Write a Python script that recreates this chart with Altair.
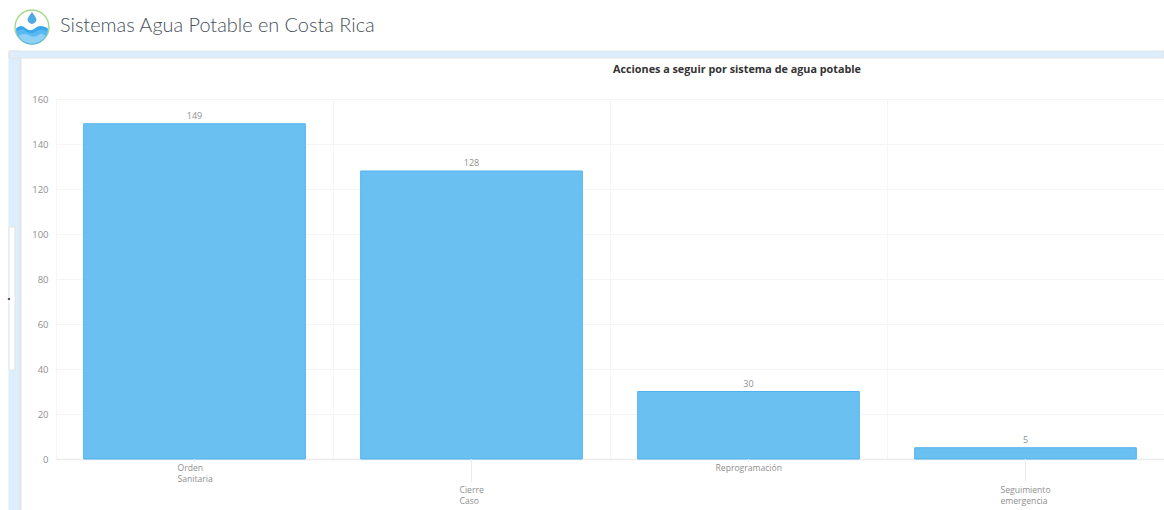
import altair as alt
import pandas as pd

# Values
categories = ["Orden|Sanitaria", "Cierre|Caso", "Reprogramación", "Seguimiento|emergencia"]
acciones = [149, 128, 30, 5]
y_ticks = [0, 20, 40, 60, 80, 100, 120, 140, 160]

# Text
page_title = "Sistemas Agua Potable en Costa Rica"
chart_title = "Acciones a seguir por sistema de agua potable"

# Colours
BAR_FILL = "#6bc0f2"
BAR_EDGE = "#4fb2ef"
GRID = "#f5f5f5"
AXIS_LINE = "#ebebeb"
TEXT_GREY = "#8f8f8f"
PANEL_BLUE = "#dcedfb"
PANEL_EDGE = "#e2e4e6"

# Plot area inside the page
PLOT_W, PLOT_H = 1108, 360
LEFT, TOP = 56, 99

df = pd.DataFrame({"accion": categories, "total": acciones})
one = alt.Data(values=[{"k": 1}])

# Bands fill the whole width so the vertical grid falls between the bars;
# the bars themselves take 80% of their band.
x = alt.X(
    "accion:N",
    sort=categories,
    title=None,
    scale=alt.Scale(paddingInner=0, paddingOuter=0),
    axis=alt.Axis(
        grid=True, gridColor=GRID, bandPosition=0, ticks=False, labels=False,
        domainColor=AXIS_LINE, domainWidth=1.5,
    ),
)
y = alt.Y(
    "total:Q",
    title=None,
    scale=alt.Scale(domain=[0, 160], nice=False),
    axis=alt.Axis(
        values=y_ticks, grid=True, gridColor=GRID, ticks=False, domain=False,
        labelColor=TEXT_GREY, labelFontSize=9.5, labelFont="Open Sans", labelPadding=8,
    ),
)


def px(left, right, top, bottom, color, stroke=None):
    """Page furniture given in page pixels."""
    mark = alt.Chart(one).mark_rect(color=color, stroke=stroke or color, strokeWidth=1)
    return mark.encode(
        x=alt.value(left - LEFT), x2=alt.value(right - LEFT),
        y=alt.value(top - TOP), y2=alt.value(bottom - TOP),
    )


def page_text(text, cx, cy, size, color, weight="normal", font="Lato", align="left"):
    return alt.Chart(one).mark_text(
        text=text, fontSize=size, color=color, fontWeight=weight, font=font,
        align=align, baseline="middle",
    ).encode(x=alt.value(cx - LEFT), y=alt.value(cy - TOP))


def logo_point(shape, size, **style):
    return alt.Chart(one).mark_point(shape=shape, size=size, opacity=1, **style).encode(
        x=alt.value(32 - LEFT), y=alt.value(27 - TOP)
    )


DROP = "M0,-1 C0.5,-0.3 0.72,0 0.72,0.25 A0.72,0.72 0 1 1 -0.72,0.25 C-0.72,0 -0.5,-0.3 0,-1 Z"
WATER = ("M-1,0.1 C-0.8,-0.12 -0.6,-0.12 -0.4,0.08 C-0.2,0.24 0,0.24 0.2,0.08 "
         "C0.4,-0.12 0.7,-0.12 1,0.1 A1,1 0 0 1 -1,0.1 Z")
WATER_MID = ("M-0.97,0.3 C-0.75,0.12 -0.55,0.12 -0.35,0.28 C-0.15,0.42 0.05,0.42 0.25,0.28 "
             "C0.45,0.12 0.75,0.14 0.97,0.3 A1,1 0 0 1 -0.97,0.3 Z")
WATER_LOW = ("M-0.85,0.56 C-0.6,0.4 -0.4,0.4 -0.2,0.52 C0,0.64 0.2,0.64 0.4,0.5 "
             "C0.55,0.4 0.72,0.42 0.85,0.56 A1,1 0 0 1 -0.85,0.56 Z")

furniture = [
    px(9, 20, 51, 510, PANEL_BLUE),
    px(9, 1164, 51, 58, PANEL_BLUE, PANEL_EDGE),
    px(20, 21, 58, 510, PANEL_EDGE),
    px(9, 15, 227, 370, "#ffffff", "#e4e4e4"),
    page_text("·", 9, 298, 12, "#444444", weight="bold", align="center"),
    logo_point("circle", 1150, filled=True, color="#ffffff"),
    logo_point("circle", 1150, filled=False, color="#a9d98f", strokeWidth=1.5),
    logo_point(WATER, 1020, filled=True, color="#38a7ee", strokeWidth=0),
    logo_point(WATER_MID, 1020, filled=True, color="#5ab8f2", strokeWidth=0),
    logo_point(WATER_LOW, 1020, filled=True, color="#8fd0f6", strokeWidth=0),
    alt.Chart(one).mark_point(shape=DROP, size=150, filled=True, opacity=1, color="#4fa9e4", strokeWidth=0)
    .encode(x=alt.value(32 - LEFT), y=alt.value(18 - TOP)),
    page_text(page_title, 60, 26, 19.9, "#46505a", weight=300, font="Lato"),
    page_text(chart_title, 737, 70, 10.8, "#333333", weight="bold", font="Open Sans", align="center"),
]

base = alt.Chart(df)
bars = base.mark_bar(
    color=BAR_FILL, stroke=BAR_EDGE, strokeWidth=1, width=alt.RelativeBandSize(band=0.8)
).encode(x=x, y=y)
values = base.mark_text(
    baseline="bottom", dy=-3, fontSize=9, color=TEXT_GREY, font="Open Sans"
).encode(x=alt.X("accion:N", sort=categories), y="total:Q", text="total:Q")

# Axis captions take turns on a near and a far row; each is a left-aligned block
# centred under its bar, and the far row hangs from a longer tick.
half_widths = {categories[0]: 17, categories[1]: 12, categories[2]: 33, categories[3]: 25}
captions = []
for i, name in enumerate(categories):
    far = i % 2 == 1
    row = alt.Chart(df[df["accion"] == name])
    captions.append(
        row.mark_rule(color=AXIS_LINE, strokeWidth=1).encode(
            x=alt.X("accion:N", sort=categories),
            y=alt.value(PLOT_H),
            y2=alt.value(PLOT_H + (23 if far else 3)),
        )
    )
    captions.append(
        row.mark_text(
            align="left", baseline="top", lineBreak="|", lineHeight=11,
            dx=-half_widths[name], fontSize=8.6, color=TEXT_GREY, font="Open Sans",
        ).encode(
            x=alt.X("accion:N", sort=categories),
            y=alt.value(PLOT_H + (27 if far else 5)),
            text="accion:N",
        )
    )

chart = (
    alt.layer(bars, *furniture, values, *captions)
    .properties(
        width=PLOT_W,
        height=PLOT_H,
        padding={"left": LEFT, "top": TOP, "right": 0, "bottom": 51},
        autosize=alt.AutoSizeParams(type="none"),
        background="#ffffff",
    )
    .configure_view(stroke=None)
)

chart.save("out.html", embed_options={"renderer": "svg", "actions": False})
